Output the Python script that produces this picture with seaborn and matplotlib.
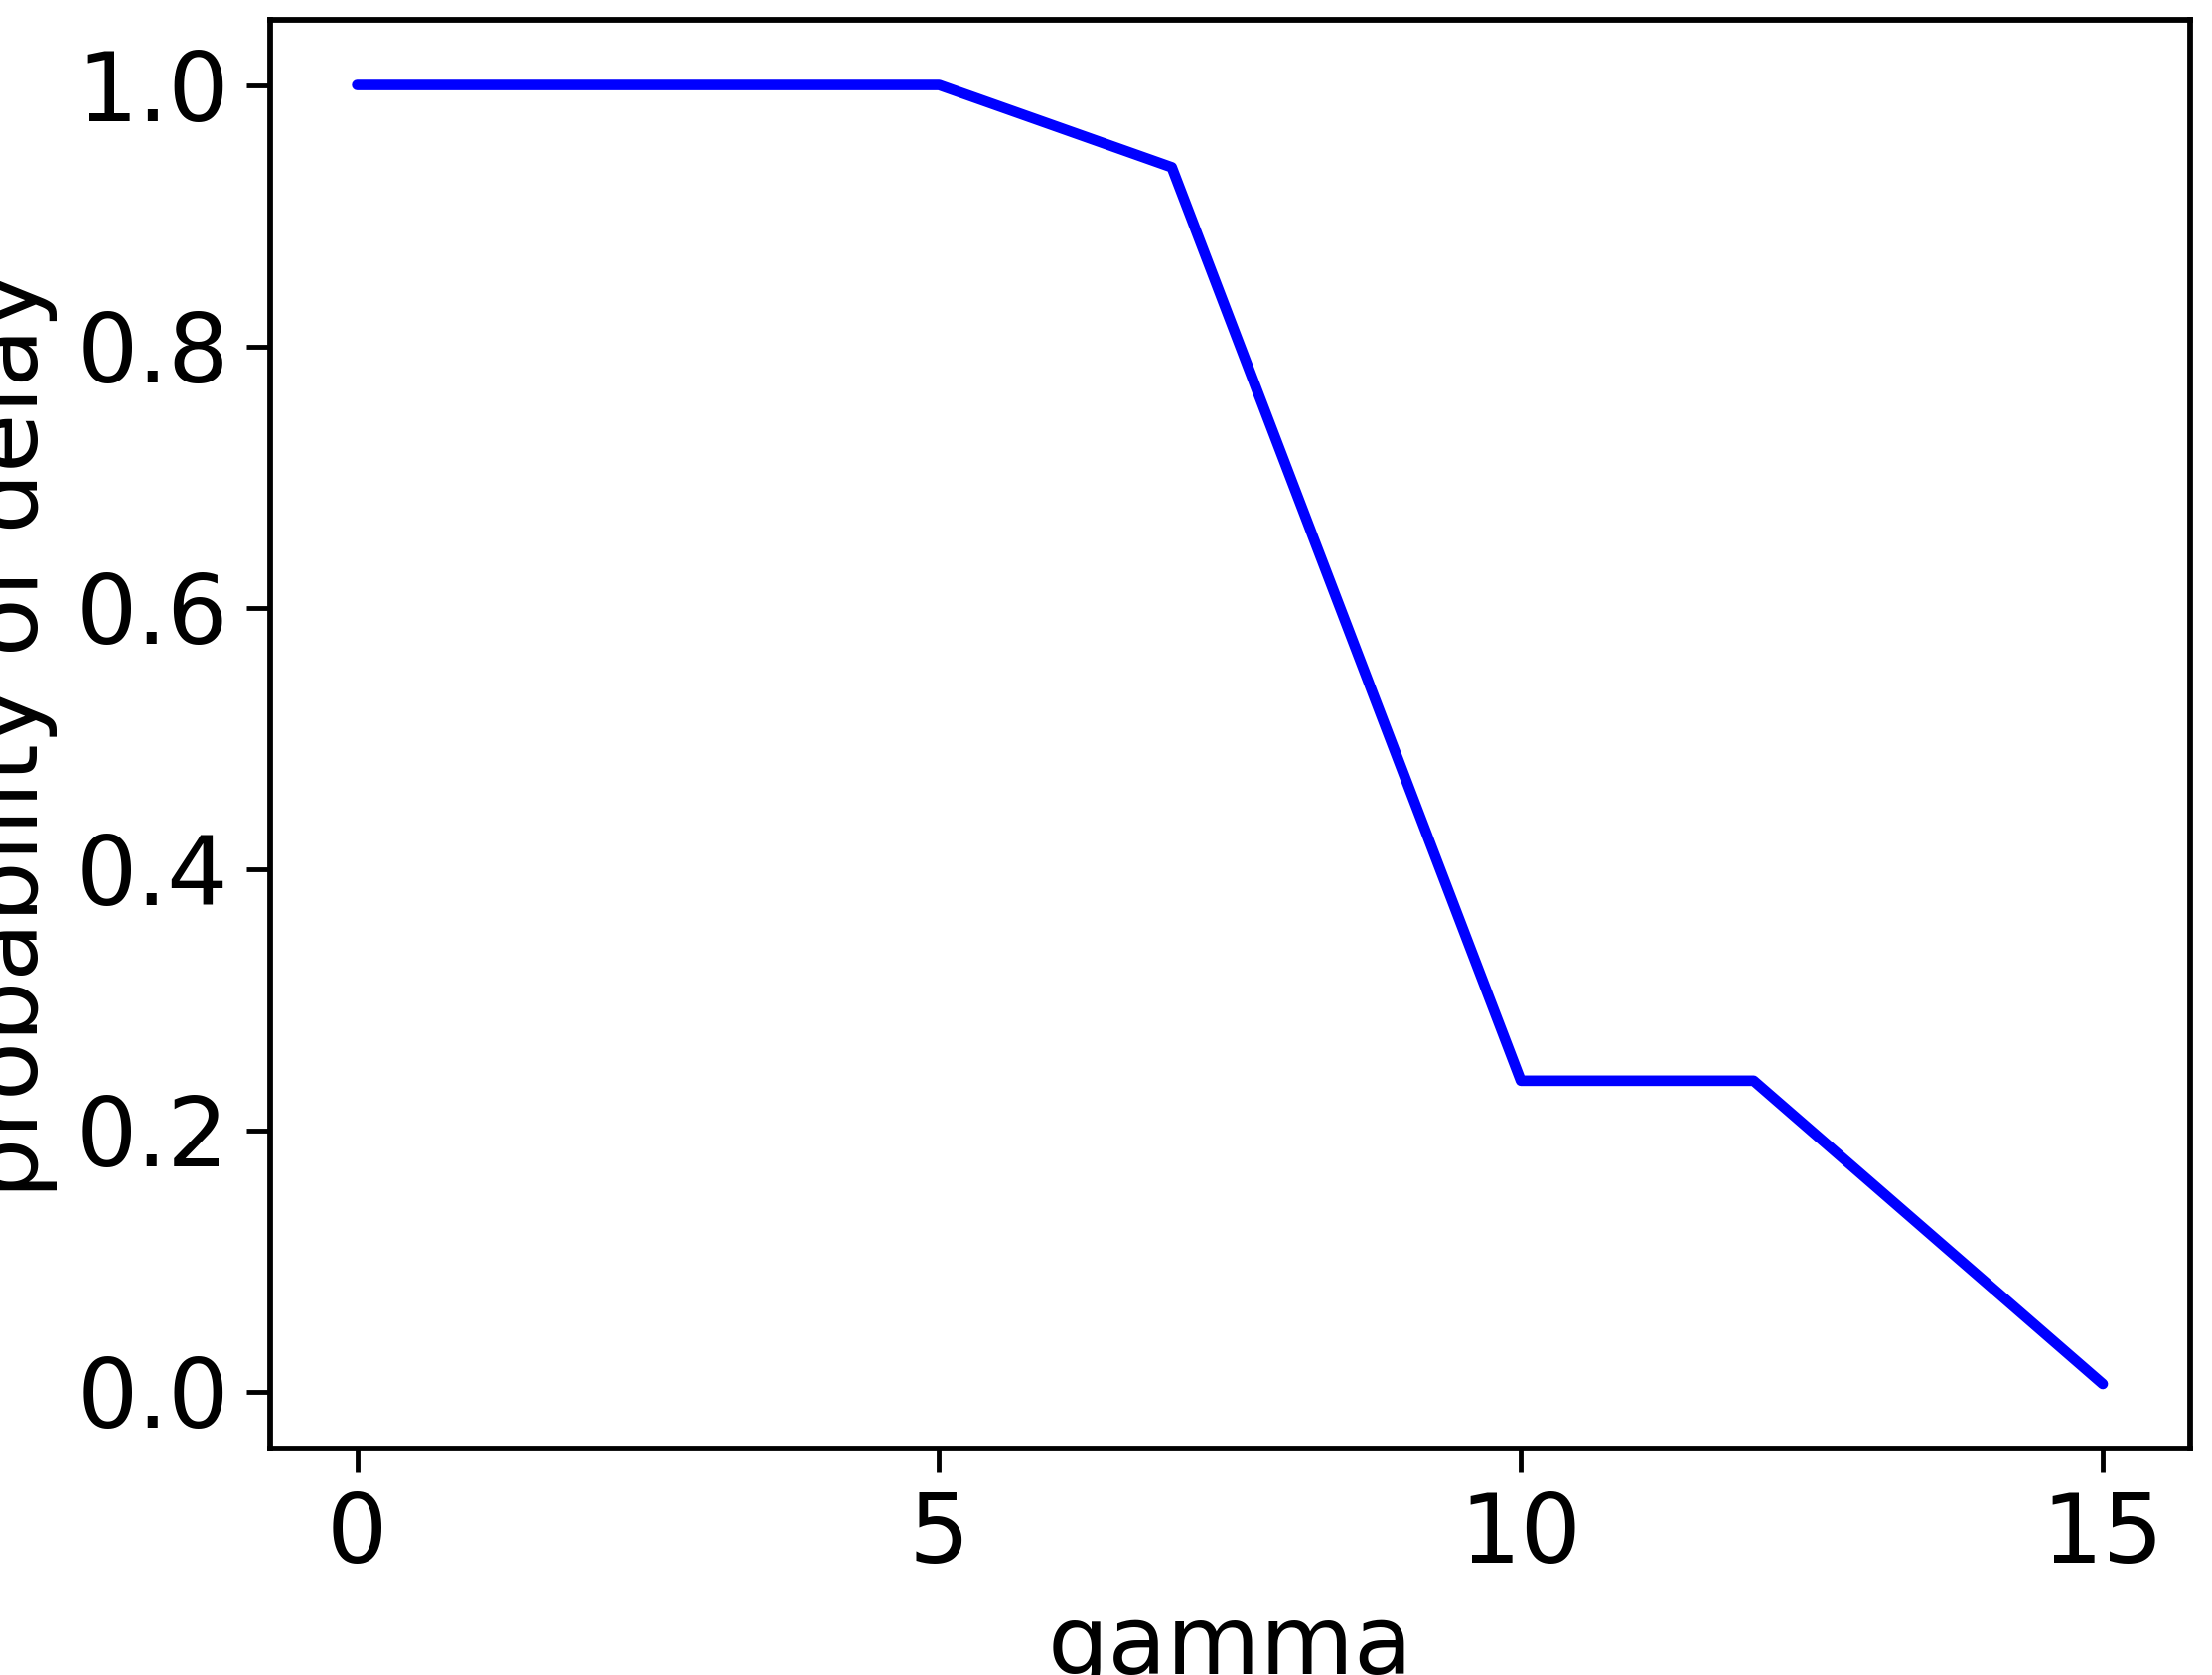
import matplotlib
matplotlib.use("Agg")
import matplotlib.pyplot as plt
import seaborn as sns
import pandas as pd

gamma = [0, 5, 7, 10, 12, 15]
prob = [1.0, 1.0, 0.937, 0.238, 0.238, 0.006]

sns.set_style("ticks")
plt.rcParams['font.family'] = ['DejaVu Sans']
plt.rcParams['text.color'] = 'black'
plt.rcParams['axes.labelcolor'] = 'black'
fig, ax = plt.subplots(figsize=(6.4, 4.845), dpi=348)
df = pd.DataFrame({"gamma": gamma, "p": prob})
sns.lineplot(data=df, x="gamma", y="p", color="blue", linewidth=2.2, ax=ax)
ax.set_xlabel("gamma", fontsize=20, color="black")
ax.set_ylabel("probability of delay", fontsize=20, color="black")
ax.tick_params(labelsize=20, direction="out", length=5, width=1, colors="black")
for s in ax.spines.values():
    s.set_visible(True); s.set_linewidth(1.2); s.set_color("black")
fig.subplots_adjust(left=0.122, right=0.99, top=0.988, bottom=0.135)
fig.savefig("out.png", dpi=348)
